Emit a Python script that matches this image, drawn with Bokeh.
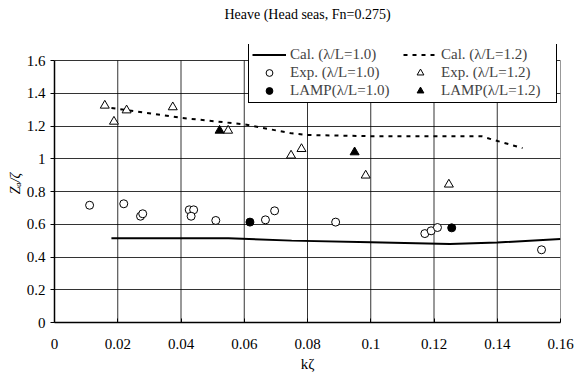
from bokeh.plotting import figure
from bokeh.models import (Legend, LegendItem, FixedTicker, CustomJSTickFormatter, Range1d, Title)
from bokeh.embed import file_html
from bokeh.resources import INLINE

FONT = "'Liberation Serif'"

# Calculated curves
cal10_x = [0.018, 0.055, 0.075, 0.100, 0.125, 0.140, 0.160]
cal10_y = [0.515, 0.515, 0.500, 0.490, 0.480, 0.488, 0.510]
cal12_x = [0.018, 0.040, 0.060, 0.075, 0.080, 0.100, 0.135, 0.138, 0.148]
cal12_y = [1.310, 1.250, 1.210, 1.155, 1.145, 1.138, 1.138, 1.120, 1.065]

# Experiments lambda/L = 1.0
exp10_x = [0.0111, 0.0219, 0.0272, 0.0279, 0.0426, 0.0440, 0.0432, 0.0510, 0.0667, 0.0696,
           0.0889, 0.1171, 0.1191, 0.1211, 0.1540]
exp10_y = [0.716, 0.725, 0.649, 0.664, 0.688, 0.688, 0.649, 0.623, 0.627, 0.682,
           0.613, 0.543, 0.560, 0.580, 0.444]
# Experiments lambda/L = 1.2
exp12_x = [0.0159, 0.0188, 0.0228, 0.0374, 0.0549, 0.0748, 0.0781, 0.0984, 0.1247]
exp12_y = [1.325, 1.227, 1.296, 1.315, 1.172, 1.020, 1.060, 0.898, 0.843]
# LAMP
lamp10_x = [0.0618, 0.1256]
lamp10_y = [0.613, 0.578]
lamp12_x = [0.0522, 0.0949]
lamp12_y = [1.172, 1.040]

x_ticks = [0, 0.02, 0.04, 0.06, 0.08, 0.10, 0.12, 0.14, 0.16]
y_ticks = [0, 0.2, 0.4, 0.6, 0.8, 1.0, 1.2, 1.4, 1.6]

X0, X1, Y0, Y1 = 0, 0.16, 0, 1.6
Y_TOP = Y1 + 16 / 163.75   # headroom above the top gridline for the legend

p = figure(width=575, height=376, output_backend="svg", toolbar_location=None,
           x_range=Range1d(X0, X1), y_range=Range1d(Y0, Y_TOP),
           min_border_left=54, min_border_right=15, min_border_top=44, min_border_bottom=54)
p.outline_line_color = None
p.background_fill_color = "white"
p.border_fill_color = "white"

# spacer between frame and title, then the title itself
p.add_layout(Title(text=" ", text_font_size="1px", standoff=20), "above")
p.add_layout(Title(text="Heave (Head seas, Fn=0.275)", align="center",
                   text_font=FONT, text_font_size="14px", text_font_style="normal",
                   text_color="black", standoff=0), "above")

for ax in (p.xaxis[0], p.yaxis[0]):
    ax.major_label_text_font = FONT
    ax.axis_label_text_font = FONT
    ax.major_label_text_font_size = "15px"
    ax.axis_label_text_font_size = "15px"
    ax.axis_label_text_font_style = "normal"
    ax.axis_line_color = "black"
    ax.axis_line_width = 1.5
    ax.major_tick_line_color = "black"
    ax.minor_tick_line_color = None
    ax.major_label_text_color = "black"
    ax.axis_label_text_color = "black"
p.yaxis.axis_label_text_font_size = "14px"
p.yaxis.axis_label_text_font_style = "italic"

p.xaxis.ticker = FixedTicker(ticks=x_ticks)
p.yaxis.ticker = FixedTicker(ticks=y_ticks)
p.yaxis.bounds = (Y0, Y1)
p.xaxis.formatter = CustomJSTickFormatter(code="return String(Math.round(tick*100)/100);")
p.yaxis.formatter = CustomJSTickFormatter(code="return String(Math.round(tick*10)/10);")
p.xaxis.major_tick_in = 4
p.xaxis.major_tick_out = 0
p.yaxis.major_tick_in = 0
p.yaxis.major_tick_out = 4
p.xaxis.major_label_standoff = 16
p.yaxis.major_label_standoff = 5
p.xaxis.axis_label_standoff = 4
p.yaxis.axis_label_standoff = 1
p.xaxis.axis_label = "kζ"
p.yaxis.axis_label = "Zₐ/ζ"

p.xgrid.visible = False
p.ygrid.grid_line_color = "black"
p.ygrid.grid_line_alpha = 0.8
p.ygrid.grid_line_width = 1
# vertical gridlines stop at the top of the value range
p.segment(x0=x_ticks, y0=[Y0] * len(x_ticks), x1=x_ticks, y1=[Y1] * len(x_ticks),
          line_color="black", line_alpha=0.8, line_width=1)

r_cal10 = p.line(cal10_x, cal10_y, line_color="black", line_width=2)
r_cal12 = p.line(cal12_x, cal12_y, line_color="black", line_width=2, line_dash="4 5")
r_exp10 = p.scatter(exp10_x, exp10_y, marker="circle", size=8, fill_color="white",
                    line_color="black", line_width=1)
r_exp12 = p.scatter(exp12_x, exp12_y, marker="triangle", size=9, fill_color="white",
                    line_color="black", line_width=1)
r_lamp10 = p.scatter(lamp10_x, lamp10_y, marker="circle", size=8, fill_color="black",
                     line_color="black")
r_lamp12 = p.scatter(lamp12_x, lamp12_y, marker="triangle", size=9, fill_color="black",
                     line_color="black")

legend = Legend(items=[
    LegendItem(label="Cal. (λ/L=1.0)", renderers=[r_cal10]),
    LegendItem(label="Exp. (λ/L=1.0)", renderers=[r_exp10]),
    LegendItem(label="LAMP(λ/L=1.0)", renderers=[r_lamp10]),
    LegendItem(label="Cal. (λ/L=1.2)", renderers=[r_cal12]),
    LegendItem(label="Exp. (λ/L=1.2)", renderers=[r_exp12]),
    LegendItem(label="LAMP(λ/L=1.2)", renderers=[r_lamp12]),
], nrows=3, orientation="vertical", location=(194, 219),
    label_text_font=FONT, label_text_font_size="15px",
    label_height=17, glyph_height=17, glyph_width=34, label_width=112, spacing=1,
    padding=3, margin=0, label_standoff=4,
    border_line_color="black", border_line_width=1.2, border_line_alpha=1,
    background_fill_color="white", background_fill_alpha=1)
p.add_layout(legend, "center")

open("out.html", "w").write(file_html(p, INLINE))
